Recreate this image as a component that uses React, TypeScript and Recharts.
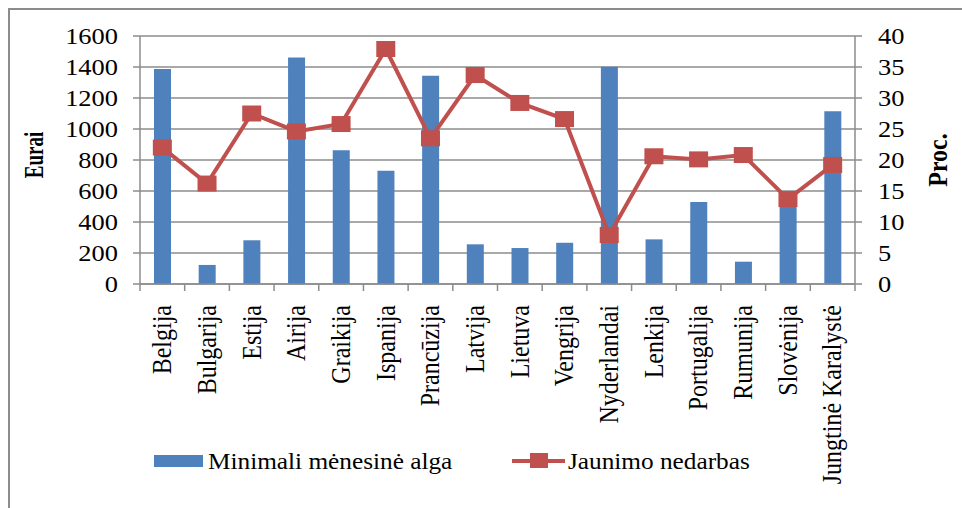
import React from "react"
import { Bar, CartesianGrid, ComposedChart, Label, Line, XAxis, YAxis } from "recharts"

const countries = [
  "Belgija", "Bulgarija", "Estija", "Airija", "Graikija", "Ispanija", "Prancūzija", "Latvija",
  "Lietuva", "Vengrija", "Nyderlandai", "Lenkija", "Portugalija", "Rumunija", "Slovėnija",
  "Jungtinė Karalystė"
]
const minWage = [1387, 123, 282, 1461, 863, 731, 1343, 256, 232, 266, 1402, 288, 529, 144, 510, 1115]
const youthUnemployment = [22.0, 16.2, 27.5, 24.6, 25.8, 37.9, 23.5, 33.7, 29.2, 26.6, 7.9, 20.6, 20.1, 20.8, 13.7, 19.2]
const eurTicks = [0, 200, 400, 600, 800, 1000, 1200, 1400, 1600]
const pctTicks = [0, 5, 10, 15, 20, 25, 30, 35, 40]
const seriesNames = ["Minimali mėnesinė alga", "Jaunimo nedarbas"]
const axisTitles = ["Eurai", "Proc."]

const data = countries.map((name, i) => ({ name, wage: minWage[i], youth: youthUnemployment[i] }))

const W = 962
const H = 508
const FONT = "'Liberation Serif', 'Times New Roman', serif"
const STRETCH = 1.15
const BLUE = "#4F81BD"
const RED = "#C0504D"
const GREY = "#8c8c8c"
const margin = { top: 36, right: 10, bottom: 0, left: 10 }
const leftAxisW = 130
const rightAxisW = 97
const plotW = W - margin.left - margin.right - leftAxisW - rightAxisW
const band = plotW / countries.length

function YTick(props: any) {
  const { x, y, payload, textAnchor } = props
  return (
    <text
      transform={`translate(${x},${y}) scale(${STRETCH},1)`}
      textAnchor={textAnchor}
      dy="0.34em"
      fontFamily={FONT}
      fontSize={23}
      fill="#000"
    >
      {payload.value}
    </text>
  )
}

function XTick(props: any) {
  const { x, y, payload, index } = props
  const left = x - band / 2
  return (
    <g>
      <line x1={left} x2={left} y1={y} y2={y + 7} stroke={GREY} strokeWidth={1.5} />
      {index === countries.length - 1 && (
        <line x1={x + band / 2} x2={x + band / 2} y1={y} y2={y + 7} stroke={GREY} strokeWidth={1.5} />
      )}
      <text
        transform={`translate(${x},${y + 21}) scale(${STRETCH},1) rotate(-90)`}
        textAnchor="end"
        dy="0.32em"
        fontFamily={FONT}
        fontSize={24}
        fill="#000"
      >
        {payload.value}
      </text>
    </g>
  )
}

// rotated axis title, placed relative to the axis box
function axisTitle(text: string, side: "left" | "right", size: number, sx: number) {
  return (props: any) => {
    const vb = props.viewBox || {}
    const cx = side === "left" ? vb.x + 23 : vb.x + vb.width - 14
    const cy = vb.y + vb.height / 2 + (side === "left" ? -5 : 0)
    return (
      <text
        transform={`translate(${cx},${cy}) scale(${sx},1) rotate(-90)`}
        textAnchor="middle"
        dy="0.35em"
        fontFamily={FONT}
        fontSize={size}
        fontWeight="bold"
        fill="#000"
      >
        {text}
      </text>
    )
  }
}

function SquareDot(props: any) {
  const { cx, cy, index } = props
  if (cx == null || cy == null) return <g key={index} />
  return <rect key={index} x={cx - 9.5} y={cy - 8} width={19} height={16} fill={RED} />
}

function LegendOverlay() {
  return (
    <svg width={W} height={H} style={{ position: "absolute", left: 0, top: 0, pointerEvents: "none" }}>
      <rect x={154} y={455} width={49} height={12} fill={BLUE} />
      <text transform={`translate(208,469) scale(1.1,1)`} fontFamily={FONT} fontSize={23} fill="#000">
        {seriesNames[0]}
      </text>
      <line x1={512} x2={565} y1={461} y2={461} stroke={RED} strokeWidth={4} />
      <rect x={530} y={453} width={18} height={15} fill={RED} />
      <text transform={`translate(568,469) scale(1.1,1)`} fontFamily={FONT} fontSize={23} fill="#000">
        {seriesNames[1]}
      </text>
    </svg>
  )
}

export default function App() {
  return (
    <div style={{ position: "absolute", left: 0, top: 0, width: W, height: H, background: "#fff", overflow: "hidden" }}>
      <div
        style={{
          position: "absolute",
          left: 8,
          top: 8,
          right: -4,
          bottom: -4,
          borderLeft: `2px solid ${GREY}`,
          borderTop: `2px solid ${GREY}`,
        }}
      />
      <div style={{ position: "absolute", left: 0, top: 0 }}>
        <ComposedChart width={W} height={H} data={data} margin={margin}>
          <CartesianGrid vertical={false} stroke={GREY} strokeWidth={1.5} yAxisId="eur" />
          <XAxis
            dataKey="name"
            interval={0}
            height={H - margin.top - 248}
            tickSize={0}
            tickMargin={0}
            tick={<XTick />}
            axisLine={{ stroke: GREY, strokeWidth: 1.5 }}
            tickLine={false}
          />
          <YAxis
            yAxisId="eur"
            orientation="left"
            width={leftAxisW}
            domain={[0, 1600]}
            ticks={eurTicks}
            interval={0}
            tickSize={7}
            tickMargin={15}
            tick={<YTick />}
            axisLine={{ stroke: GREY, strokeWidth: 1.5 }}
            tickLine={{ stroke: GREY, strokeWidth: 1.5 }}
          >
            <Label content={axisTitle(axisTitles[0], "left", 19, 1.45)} />
          </YAxis>
          <YAxis
            yAxisId="pct"
            orientation="right"
            width={rightAxisW}
            domain={[0, 40]}
            ticks={pctTicks}
            interval={0}
            tickSize={7}
            tickMargin={16}
            tick={<YTick />}
            axisLine={{ stroke: GREY, strokeWidth: 1.5 }}
            tickLine={{ stroke: GREY, strokeWidth: 1.5 }}
          >
            <Label content={axisTitle(axisTitles[1], "right", 24, 1.1)} />
          </YAxis>
          <Bar
            yAxisId="eur"
            dataKey="wage"
            name={seriesNames[0]}
            fill={BLUE}
            barSize={17}
            isAnimationActive={false}
          />
          <Line
            yAxisId="pct"
            dataKey="youth"
            name={seriesNames[1]}
            type="linear"
            stroke={RED}
            strokeWidth={4}
            dot={SquareDot}
            activeDot={false}
            isAnimationActive={false}
          />
        </ComposedChart>
      </div>
      <LegendOverlay />
    </div>
  )
}
